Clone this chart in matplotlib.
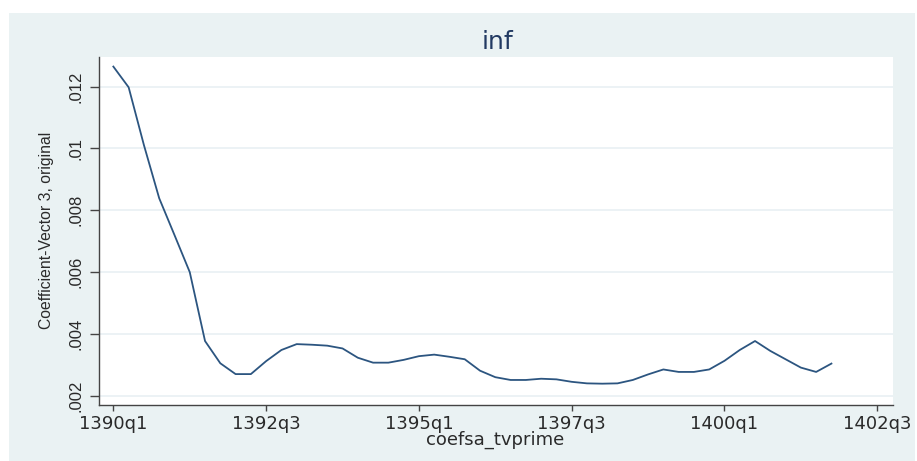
import matplotlib
matplotlib.use("Agg")
import matplotlib.pyplot as plt
from matplotlib.patches import Rectangle

# Quarters 1390q1 .. 1401q4
years = list(range(1390, 1402))
quarters = [f"{y}q{q}" for y in years for q in range(1, 5)]

# Coefficient values
coef = [0.01265, 0.01198, 0.01011, 0.00839, 0.00720, 0.00600,
        0.00377, 0.00305, 0.00270, 0.00270, 0.00312, 0.00348,
        0.00367, 0.00365, 0.00362, 0.00353, 0.00323, 0.00307,
        0.00307, 0.00316, 0.00328, 0.00333, 0.00326, 0.00318,
        0.00281, 0.00260, 0.00251, 0.00251, 0.00255, 0.00253,
        0.00245, 0.00240, 0.00239, 0.00240, 0.00251, 0.00269,
        0.00285, 0.00277, 0.00277, 0.00285, 0.00313, 0.00348,
        0.00377, 0.00345, 0.00318, 0.00291, 0.00277, 0.00304]

xtick_labels = ["1390q1", "1392q3", "1395q1", "1397q3", "1400q1", "1402q3"]
yticks = [0.002, 0.004, 0.006, 0.008, 0.010, 0.012]
ytick_labels = [".002", ".004", ".006", ".008", ".01", ".012"]

line_col = "#2c5580"
title_col = "#223a62"
panel = "#eaf2f3"

W, H = 917, 461
fig = plt.figure(figsize=(W / 100, H / 100), dpi=100)
fig.patch.set_facecolor("white")

# Stata-like outer panel, drawn behind the axes
fig.patches.append(Rectangle((9 / W, 0), (915 - 9) / W, (H - 13) / H,
                             transform=fig.transFigure, facecolor=panel,
                             edgecolor="none", zorder=-10))

ax = fig.add_axes([99 / W, (H - 405) / H, (893 - 99) / W, (405 - 57) / H])
ax.set_facecolor("white")

x = list(range(len(quarters)))
ax.plot(x, coef, color=line_col, linewidth=1.3, zorder=3)

# x positions of tick labels (1402q3 lies past the data)
def qindex(label):
    y, q = label.split("q")
    return (int(y) - 1390) * 4 + int(q) - 1

ax.set_xticks([qindex(l) for l in xtick_labels])
ax.set_xticklabels(xtick_labels, fontfamily="DejaVu Sans", fontsize=13, color="#2a2a2a")
ax.set_yticks(yticks)
ax.set_yticklabels(ytick_labels, rotation=90, va="center",
                   fontfamily=["Liberation Sans", "DejaVu Sans"], fontsize=12, color="#2a2a2a")

ax.set_xlim(-0.94, 51.03)
ax.set_ylim(0.0017, 0.01296)

ax.grid(axis="y", color="#eaf1f4", linewidth=1.3)
ax.set_axisbelow(True)

for side in ["top", "right"]:
    ax.spines[side].set_visible(False)
for side in ["left", "bottom"]:
    ax.spines[side].set_color("#444444")
    ax.spines[side].set_linewidth(1.0)

ax.tick_params(axis="x", length=4.5, width=1.0, color="#444444", pad=3)
ax.tick_params(axis="y", length=6.5, width=1.0, color="#444444", pad=5)

# Title and axis titles
fig.text(497 / W, (H - 49) / H, "inf", ha="center", va="baseline",
         fontfamily="DejaVu Sans", fontsize=18, color=title_col)
fig.text(495 / W, (H - 440) / H, "coefsa_tvprime", ha="center", va="center",
         fontfamily="DejaVu Sans", fontsize=13, color="#2a2a2a")
fig.text(47 / W, (H - 230) / H, "Coefficient-Vector 3, original", rotation=90,
         ha="center", va="center", fontfamily=["Liberation Sans", "DejaVu Sans"],
         fontsize=11.3, color="#2a2a2a")

fig.savefig("out.png", dpi=100, facecolor=fig.get_facecolor())
